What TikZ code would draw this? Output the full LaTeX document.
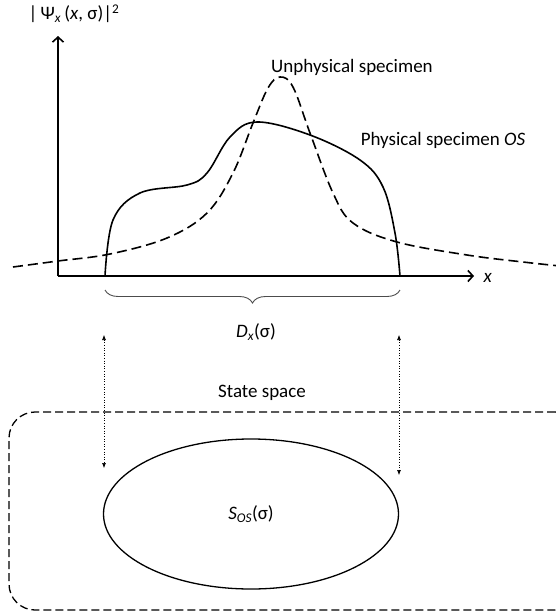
\documentclass[tikz,border=0pt]{standalone}
\usepackage{fontspec}
\setmainfont{Carlito}
\usetikzlibrary{arrows.meta, positioning, decorations.pathreplacing, shapes.geometric}

\tikzset{
  axis/.style={line width=1.6pt, -{Straight Barb[length=5pt, width=11pt]}},
  curve/.style={line width=1.6pt},
  unphys/.style={line width=1.6pt, dash pattern=on 10pt off 5pt},
  link/.style={line width=0.6pt, dotted, {Latex[length=5pt, width=4pt]}-{Latex[length=5pt, width=4pt]}},
}

\begin{document}
\begin{tikzpicture}[x=1pt, y=-1pt, font=\fontsize{19}{22}\selectfont]
\useasboundingbox (0,0) rectangle (556,616);
% axes
\coordinate (origin) at (58,276);
\coordinate (ytip) at (58,36);
\coordinate (xtip) at (474,276);
\draw[axis] (origin) -- (ytip);
\draw[axis] (origin) -- (xtip);
\node[anchor=west] (xlabel) at (480,278) {\textit{x}};
\node (ylabel) at (74,14) {|\,Ψ\textsubscript{\textit{x}}\,(\textit{x}, σ)|\textsuperscript{2}};

% the two specimens
\draw[unphys] plot[smooth, tension=0.6] coordinates {(13,267) (58,261) (110,254) (167,238) (207,213) (233,173) (253,123) (268,88) (280,77) (293,87) (310,133) (333,193) (353,223) (397,242) (467,255) (523,262) (560,266)};
\draw[curve] plot[smooth, tension=0.6] coordinates {(105,276) (113,220) (140,193) (187,185) (207,173) (230,137) (257,122) (310,135) (360,160) (383,187) (395,233) (400,276)};
\node (unphyslabel) at (352,67) {Unphysical specimen};
\node (physlabel) at (443,140) {Physical specimen \textit{OS}};

% domain
\coordinate (dleft) at (105,290);
\coordinate (dright) at (400,290);
\draw[decorate, decoration={brace, mirror, amplitude=13pt}, gray!60!black, line width=0.9pt] (dleft) -- (dright);
\node (domain) at (256,332) {\textit{D\textsubscript{x}}(σ)};

% state space
\node (sslabel) at (262,393) {State space};
\node[draw, line width=1.3pt, dash pattern=on 8pt off 4pt, rounded corners=26pt, minimum width=572pt, minimum height=198pt] (statespace) at (295,511) {};
\node[draw, ellipse, line width=1.3pt, minimum width=295pt, minimum height=150pt, inner sep=0pt] (sos) at (251,514) {\textit{S\textsubscript{OS}}(σ)};

\coordinate (la) at (104,335);
\coordinate (lb) at (104,468);
\coordinate (ra) at (399,335);
\coordinate (rb) at (399,475);
\draw[link] (la) -- (lb);
\draw[link] (ra) -- (rb);
\end{tikzpicture}
\end{document}
